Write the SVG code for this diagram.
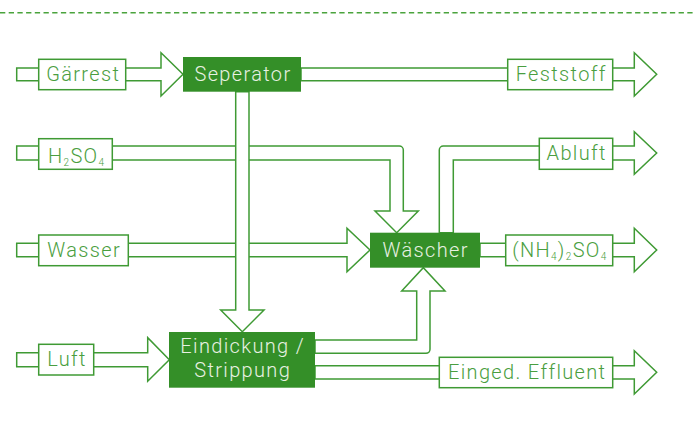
<svg xmlns="http://www.w3.org/2000/svg" width="694" height="429" viewBox="0 0 694 429">
<style>
.a{fill:#fff;stroke:#3f9a34;stroke-width:1.5;stroke-linejoin:miter}
.b{fill:#fff;stroke:#3f9a34;stroke-width:1.5}
.f{fill:#348f28;stroke:none}
.t{font-family:Roboto,"Liberation Sans",sans-serif;font-size:20px;font-weight:300;letter-spacing:1.35px;text-anchor:middle;fill:#4a9e40}
.w{fill:#e8f1e2}
.s{font-size:10px}
</style>
<rect width="694" height="429" fill="#fff"/>
<line x1="0" y1="12.7" x2="694" y2="12.7" stroke="#4aa33d" stroke-width="1.5" stroke-dasharray="5.3 3.4"/>
<g id="connectors">
<path class="a" d="M16.7,68 H161 V52.7 L183,74.3 L161,96 V80.7 H16.7 Z"/>
<path class="a" d="M301,68 H634.3 V52.7 L656.7,74.3 L634.3,96 V80.7 H301 Z"/>
<path class="a" d="M16.7,146 H399.3 A4,4 0 0 1 403.3,150 V211 H418.3 L396.7,232.7 L375,211 H390 V160 H16.7 Z"/>
<path class="a" d="M16.7,243.3 H347 V228.3 L370,250 L347,271.7 V256.7 H16.7 Z"/>
<path class="a" d="M235.7,91.7 V310 H220.7 L242.3,331.7 L264,310 H249 V91.7 Z"/>
<path class="a" d="M439.3,232.7 V150 A4,4 0 0 1 443.3,146 H634.3 V131.7 L656.7,153 L634.3,174.3 V160 H453.3 V232.7 Z"/>
<path class="a" d="M480,243.3 H634.3 V228.3 L656.7,250 L634.3,271.7 V256.7 H480 Z"/>
<path class="a" d="M16.7,352.7 H147.7 V337.7 L169.3,359.7 L147.7,381.3 V366.7 H16.7 Z"/>
<path class="a" d="M315,340 H416.7 V291 H401.7 L423.3,267.7 L445,291 H430 V349.3 A4,4 0 0 1 426,353.3 H315 Z"/>
<path class="a" d="M315,365.7 H634.3 V350.7 L656.7,372.3 L634.3,394 V379 H315 Z"/>
</g>
<g id="gaerrest"><rect class="b" x="38.7" y="59.3" width="87" height="30.4"/><text class="t" x="83.2" y="81">Gärrest</text></g>
<g id="seperator"><rect class="f" x="183" y="57" width="118" height="34.7"/><text class="t w" x="243" y="80.7">Seperator</text></g>
<g id="feststoff"><rect class="b" x="507.7" y="59.3" width="105" height="30.4"/><text class="t" x="561.2" y="81">Feststoff</text></g>
<g id="h2so4"><rect class="b" x="38.7" y="138.7" width="73.6" height="30.6"/><text class="t" x="76.7" y="163">H<tspan class="s" dy="3">2</tspan><tspan dy="-3">SO</tspan><tspan class="s" dy="3">4</tspan></text></g>
<g id="abluft"><rect class="b" x="539.3" y="138.3" width="73.4" height="31"/><text class="t" x="576.7" y="160">Abluft</text></g>
<g id="wasser"><rect class="b" x="38.7" y="235" width="89.6" height="30.7"/><text class="t" x="84.2" y="257">Wasser</text></g>
<g id="waescher"><rect class="f" x="370" y="232.7" width="110" height="35"/><text class="t w" x="425.7" y="256.7">Wäscher</text></g>
<g id="nh4so4"><rect class="b" x="505.7" y="235" width="107" height="30.7"/><text class="t" x="559.9" y="256.7">(NH<tspan class="s" dy="3">4</tspan><tspan dy="-3">)</tspan><tspan class="s" dy="3">2</tspan><tspan dy="-3">SO</tspan><tspan class="s" dy="3">4</tspan></text></g>
<g id="luft"><rect class="b" x="38.7" y="344.3" width="55" height="30.7"/><text class="t" x="67" y="366">Luft</text></g>
<g id="eindickung"><rect class="f" x="169" y="332" width="146" height="55.7"/><text class="t w" x="242.7" y="353.3">Eindickung /</text><text class="t w" x="242.7" y="377.3">Strippung</text></g>
<g id="effluent"><rect class="b" x="439.3" y="357.3" width="173.4" height="30.4"/><text class="t" x="527.2" y="379">Einged. Effluent</text></g>
</svg>
